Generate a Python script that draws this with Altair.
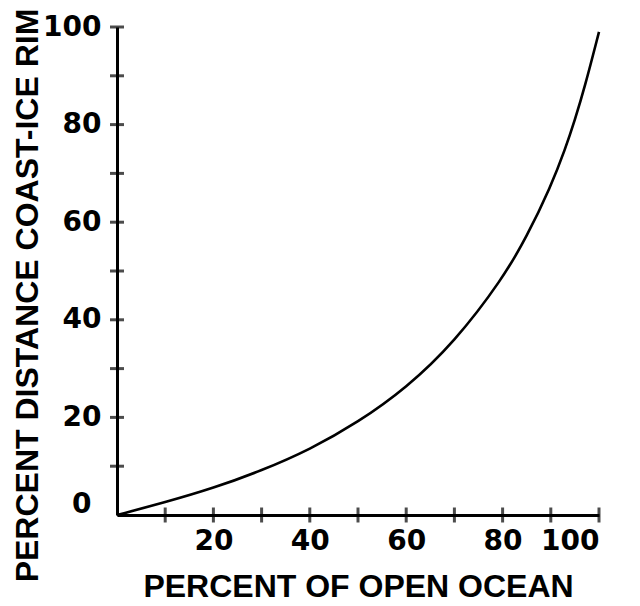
import altair as alt
import pandas as pd

# Curve values
open_ocean = [0, 10, 20, 30, 40, 50, 60, 70, 80, 85, 90, 93, 95, 97, 100]
distance = [0, 2.6, 5.5, 9.1, 13.4, 19.0, 26.0, 35.4, 48.4, 57.0, 67.3, 75.0, 81.0, 87.5, 99.0]

x_ticks = [10, 20, 30, 40, 50, 60, 70, 80, 90, 100]
y_ticks = [10, 20, 30, 40, 50, 60, 70, 80, 90, 100]
x_labels = [20, 40, 60, 80, 100]
y_labels = [0, 20, 40, 60, 80, 100]

curve = pd.DataFrame({"x": open_ocean, "y": distance})
xt = pd.DataFrame({"x": x_ticks, "y": [0] * len(x_ticks)})
yt = pd.DataFrame({"x": [0] * len(y_ticks), "y": y_ticks})

xscale = alt.Scale(domain=[0, 100], nice=False, zero=True)
yscale = alt.Scale(domain=[0, 100], nice=False, zero=True)

x_axis = alt.Axis(
    values=x_labels, ticks=False, tickSize=0, grid=False,
    domainColor="black", domainWidth=3,
    labelFont="DejaVu Sans", labelFontWeight="bold", labelFontSize=28,
    labelColor="black", labelPadding=12,
    title="PERCENT OF OPEN OCEAN", titleFont="Liberation Sans",
    titleFontWeight="bold", titleFontSize=32, titleColor="black",
    titleBaseline="alphabetic", titleY=81, titleAlign="center", titleX=241,
)
y_axis = alt.Axis(
    values=y_labels, ticks=False, tickSize=0, grid=False,
    domainColor="black", domainWidth=3,
    labelFont="DejaVu Sans", labelFontWeight="bold", labelFontSize=28,
    labelColor="black",
    labelPadding={"condition": {"test": "datum.value === 0", "value": 26}, "value": 16},
    labelOffset={"condition": {"test": "datum.value === 0", "value": -11}, "value": 0},
    title="PERCENT DISTANCE COAST-ICE RIM", titleFont="Liberation Sans",
    titleFontWeight="bold", titleFontSize=32, titleColor="black",
    titleAngle=270, titleBaseline="alphabetic", titleAlign="center",
    titleX=-80, titleY=268,
)

line = alt.Chart(curve).mark_line(
    color="black", strokeWidth=2.6, interpolate="basis"
).encode(
    x=alt.X("x:Q", scale=xscale, axis=x_axis),
    y=alt.Y("y:Q", scale=yscale, axis=y_axis),
)

xtick_layer = alt.Chart(xt).mark_tick(
    orient="vertical", size=15, thickness=3, color="black"
).encode(x=alt.X("x:Q", scale=xscale), y=alt.Y("y:Q", scale=yscale))

ytick_layer = alt.Chart(yt).mark_tick(
    orient="horizontal", size=14, thickness=3, color="black"
).encode(x=alt.X("x:Q", scale=xscale), y=alt.Y("y:Q", scale=yscale))

chart = alt.layer(line, xtick_layer, ytick_layer).properties(
    width=482, height=488,
    autosize=alt.AutoSizeParams(type="none"),
    padding={"left": 117, "top": 27, "right": 41, "bottom": 91},
    background="white",
).configure_view(strokeWidth=0)

chart.save("out.html", embed_options={"renderer": "svg", "actions": False})
